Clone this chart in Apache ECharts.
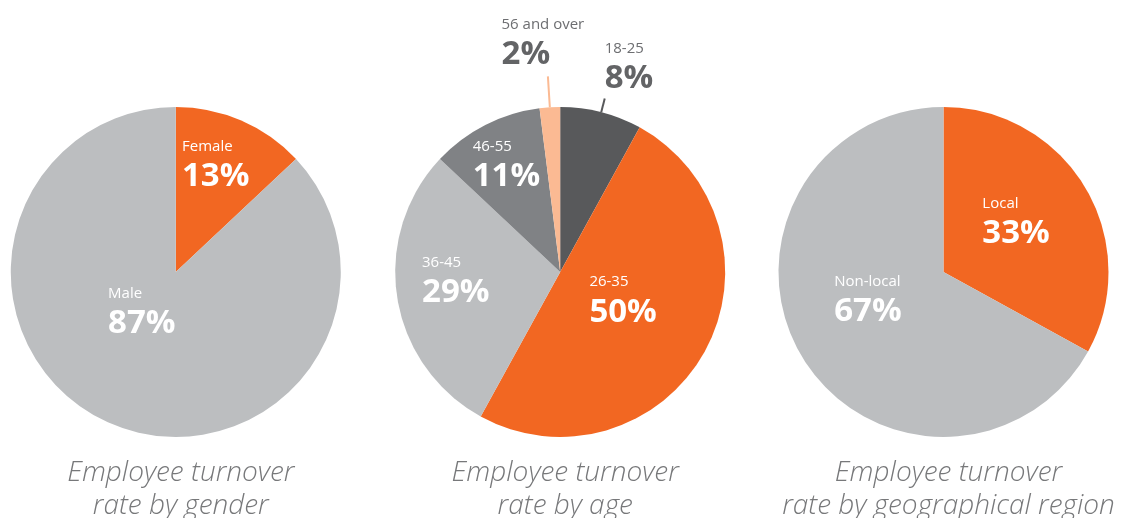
<!DOCTYPE html>
<html>
<head>
<meta charset="utf-8">
<script src="https://cdn.jsdelivr.net/npm/echarts@6/dist/echarts.min.js"></script>
<style>
  html, body { margin: 0; padding: 0; background: #fff; }
  #main { width: 1134px; height: 518px; }
</style>
</head>
<body>
<div id="main"></div>
<script>
// data
var genderNames = ['Female', 'Male'];
var genderValues = [13, 87];
var ageNames = ['18-25', '26-35', '36-45', '46-55', '56 and over'];
var ageValues = [8, 50, 29, 11, 2];
var regionNames = ['Local', 'Non-local'];
var regionValues = [33, 67];
var titles = [
    'Employee turnover\nrate by gender',
    'Employee turnover\nrate by age',
    'Employee turnover\nrate by geographical region'
];

var ORANGE = '#f26722';
var LIGHT = '#bcbec0';
var DARK = '#58595b';
var MID = '#808285';
var PEACH = '#fbba93';

var genderColors = [ORANGE, LIGHT];
var ageColors = [DARK, ORANGE, LIGHT, MID, PEACH];
var regionColors = [ORANGE, LIGHT];

// label nudges (dx, dy) for the labels drawn inside the slices
var genderShift = [[6, -28], [0, -38]];
var ageShift = [null, [-12, -12], [-20, -4], [-15, -30], null];
var regionShift = [[-1, -6], [-2, -15]];

var font = '"Open Sans", "Noto Sans", sans-serif';

function richFor(nameColor, pctColor) {
    return {
        n: { fontFamily: font, fontSize: 15, color: nameColor, lineHeight: 22, align: 'left' },
        p: { fontFamily: font, fontSize: 33, fontWeight: 'bold', color: pctColor, lineHeight: 38, align: 'left' }
    };
}

function buildData(names, values, colors) {
    var out = [];
    for (var i = 0; i < names.length; i++) {
        out.push({ name: names[i], value: values[i], itemStyle: { color: colors[i] } });
    }
    return out;
}

function makePie(center, names, values, colors, shift) {
    return {
        type: 'pie',
        center: center,
        radius: 165,
        startAngle: 90,
        clockwise: true,
        avoidLabelOverlap: false,
        silent: true,
        itemStyle: { borderWidth: 0 },
        label: {
            position: 'inside',
            formatter: '{n|{b}}\n{p|{c}%}',
            rich: richFor('#ffffff', '#ffffff')
        },
        labelLine: { show: false },
        labelLayout: function (params) {
            var s = shift[params.dataIndex];
            if (s) return { dx: s[0], dy: s[1] };
            return { verticalAlign: 'bottom', align: params.dataIndex === 0 ? 'left' : 'center' };
        },
        data: buildData(names, values, colors)
    };
}

var chart = echarts.init(document.getElementById('main'));

var ageSeries = makePie(['49.4%', '52.5%'], ageNames, ageValues, ageColors, ageShift);
// the two small slices keep their labels outside with a short leader line
ageSeries.data[0].label = {
    position: 'outside',
    distanceToLabelLine: 0,
    padding: [0, 0, 1, 0],
    rich: richFor('#6d6e71', '#636466')
};
ageSeries.data[0].labelLine = { show: true, length: 14, length2: 0, lineStyle: { color: DARK, width: 2 } };
ageSeries.data[4].label = {
    position: 'outside',
    distanceToLabelLine: 0,
    padding: [0, 10, 3, 0],
    rich: richFor('#6d6e71', '#636466')
};
ageSeries.data[4].labelLine = { show: true, length: 31, length2: 0, lineStyle: { color: PEACH, width: 2 } };

var titleLeft = ['15.5%', '49.4%', '83.2%'];
var titleList = [];
for (var t = 0; t < titles.length; t++) {
    titleList.push({
        text: titles[t],
        left: titleLeft[t],
        top: 452,
        textAlign: 'center',
        textStyle: {
            fontFamily: font,
            fontStyle: 'italic',
            fontWeight: 300,
            fontSize: 28,
            lineHeight: 33,
            color: '#77787a'
        }
    });
}

var option = {
    backgroundColor: '#ffffff',
    animation: false,
    title: titleList,
    series: [
        makePie(['15.5%', '52.5%'], genderNames, genderValues, genderColors, genderShift),
        ageSeries,
        makePie(['83.2%', '52.5%'], regionNames, regionValues, regionColors, regionShift)
    ]
};

chart.setOption(option);
</script>
</body>
</html>
